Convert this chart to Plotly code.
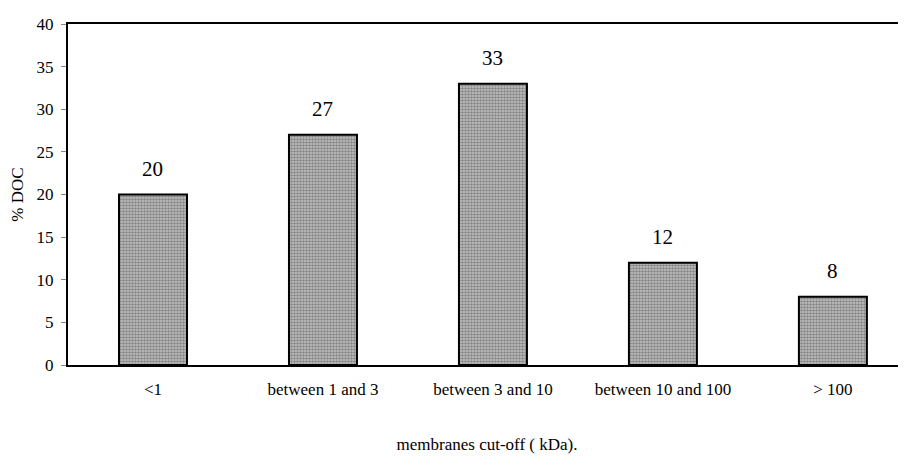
import plotly.graph_objects as go

categories = ["<1", "between 1 and 3", "between 3 and 10", "between 10 and 100", "> 100"]
values = [20, 27, 33, 12, 8]
y_ticks = [0, 5, 10, 15, 20, 25, 30, 35, 40]

FONT = "Liberation Serif, Times New Roman, serif"

fig = go.Figure()
fig.add_trace(go.Bar(
    x=categories, y=values, width=0.4,
    marker=dict(
        color="#9a9a9a",
        line=dict(color="black", width=2),
        pattern=dict(shape=".", fgcolor="#4a4a4a", bgcolor="#c4c4c4", size=3, solidity=0.55),
    ),
    showlegend=False,
))
for c, v in zip(categories, values):
    fig.add_annotation(x=c, y=v, text=str(v), showarrow=False, yanchor="bottom", yshift=12,
                       font=dict(family=FONT, size=21, color="black"))

fig.update_layout(
    width=898, height=450,
    margin=dict(l=60, r=0, t=16, b=93, autoexpand=False),
    paper_bgcolor="white", plot_bgcolor="white",
    font=dict(family=FONT, color="black", size=16),
    bargap=0.6,
)
fig.update_xaxes(
    range=[-0.5, 4.43], showline=True, linecolor="black", linewidth=2, mirror=True,
    ticks="", showgrid=False, automargin=False,
    tickfont=dict(family=FONT, size=17), ticklabelstandoff=8,
    title=dict(text="membranes cut-off ( kDa).", font=dict(family=FONT, size=17), standoff=40),
)
fig.update_yaxes(
    range=[0, 40], tickvals=y_ticks, showline=True, linecolor="black", linewidth=2,
    ticks="outside", ticklen=5, tickcolor="#888", showgrid=False, zeroline=False, automargin=False,
    tickfont=dict(family=FONT, size=17), ticklabelstandoff=4,
    title=dict(text="% DOC", font=dict(family=FONT, size=17), standoff=12),
)
fig.write_html("out.html")
